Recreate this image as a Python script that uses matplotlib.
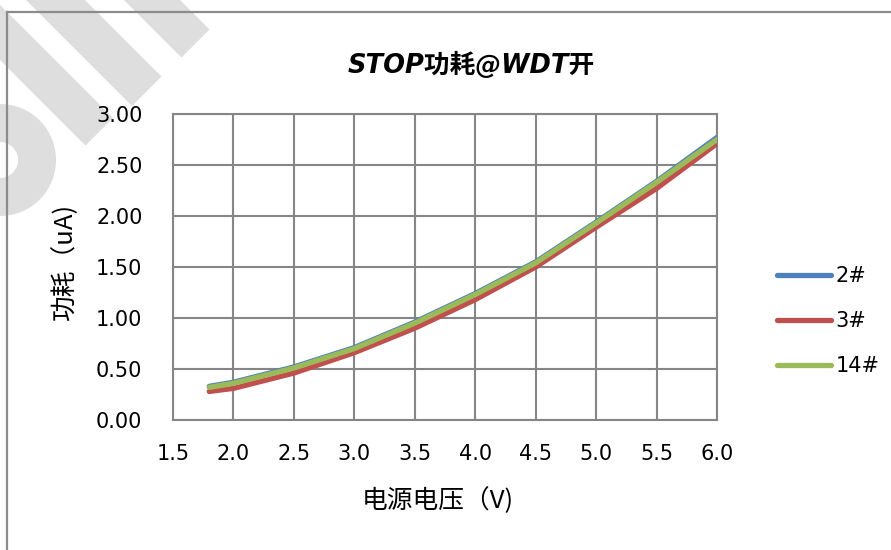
import matplotlib
matplotlib.use("Agg")
import matplotlib.pyplot as plt
from matplotlib.patches import Polygon, Wedge
from matplotlib.lines import Line2D

plt.rcParams['font.family'] = ['Noto Sans CJK SC', 'DejaVu Sans']

# data
voltage = [1.8, 2.0, 2.5, 3.0, 3.5, 4.0, 4.5, 5.0, 5.5, 6.0]
chip_2 = [0.33, 0.37, 0.52, 0.71, 0.96, 1.24, 1.55, 1.94, 2.34, 2.77]
chip_3 = [0.28, 0.31, 0.46, 0.66, 0.90, 1.18, 1.50, 1.89, 2.27, 2.71]
chip_14 = [0.32, 0.36, 0.51, 0.70, 0.95, 1.23, 1.54, 1.93, 2.33, 2.75]
series_names = ['2#', '3#', '14#']
colors = ['#4F81BD', '#C0504D', '#9BBB59']

W, H = 891, 550
fig = plt.figure(figsize=(W / 100, H / 100), dpi=100)


def fx(px):
    return px / W


def fy(py):
    return 1 - py / H


# watermark behind everything, drawn in pixel space
wm_ax = fig.add_axes([0, 0, 1, 1], zorder=-1)
wm_ax.set_xlim(0, W)
wm_ax.set_ylim(H, 0)
wm_ax.axis('off')
wm = '#DEDEDE'
# 45 degree stripes: (x-y range, end cut x+y)
stripes = [(-60, -5, 231), (26, 85, 238), (124, 180, 239)]
for a, b, e in stripes:
    pts = [(a, 0), (b, 0), ((e + b) / 2, (e - b) / 2), ((e + a) / 2, (e - a) / 2)]
    wm_ax.add_patch(Polygon(pts, closed=True, facecolor=wm, edgecolor='none'))
wm_ax.add_patch(Wedge((0, 160), 56, 0, 360, width=38, facecolor=wm, edgecolor='none'))

# chart border (left and top only, the rest is clipped)
fig.add_artist(Line2D([fx(7), fx(7)], [fy(12), 0], transform=fig.transFigure,
                      color='#8C8C8C', lw=1.6))
fig.add_artist(Line2D([fx(7), 1], [fy(12), fy(12)], transform=fig.transFigure,
                      color='#8C8C8C', lw=1.6))

ax = fig.add_axes([fx(173), fy(420), fx(717) - fx(173), fy(114) - fy(420)])
ax.set_facecolor('none')

for vals, name, c in zip([chip_2, chip_3, chip_14], series_names, colors):
    ax.plot(voltage, vals, color=c, lw=3.8, label=name,
            solid_capstyle='round', solid_joinstyle='round', zorder=3)

ax.set_xlim(1.5, 6.0)
ax.set_ylim(0, 3.0)
ax.set_xticks([1.5, 2.0, 2.5, 3.0, 3.5, 4.0, 4.5, 5.0, 5.5, 6.0])
ax.set_yticks([0, 0.5, 1.0, 1.5, 2.0, 2.5, 3.0])
ax.xaxis.set_major_formatter(matplotlib.ticker.FormatStrFormatter('%.1f'))
ax.yaxis.set_major_formatter(matplotlib.ticker.FormatStrFormatter('%.2f'))
ax.grid(True, color='#868686', lw=1.5, zorder=1)
for s in ax.spines.values():
    s.set_color('#868686')
    s.set_linewidth(1.5)
ax.tick_params(length=0, labelsize=15, colors='black')
ax.tick_params(axis='y', pad=22)
ax.tick_params(axis='x', pad=17)
for lab in ax.get_xticklabels() + ax.get_yticklabels():
    lab.set_family('DejaVu Sans')

fig.text(fx(471), fy(65), 'STOP功耗@WDT开', ha='center', va='center',
         fontsize=18.5, fontweight='bold', style='italic',
         family=['DejaVu Sans', 'Noto Sans CJK SC'])
fig.text(fx(65), fy(262), '功耗（uA)', rotation=90, ha='center', va='center',
         fontsize=18.5)
fig.text(fx(438), fy(501), '电源电压（V)', ha='center', va='center', fontsize=18.5)

fig.legend(loc='center left', bbox_to_anchor=(fx(777), fy(321)),
           frameon=False, prop={'family': 'DejaVu Sans', 'size': 15},
           handlelength=2.6, handletextpad=0.2,
           labelspacing=1.2, borderpad=0, borderaxespad=0)

fig.savefig('out.png', dpi=100)
